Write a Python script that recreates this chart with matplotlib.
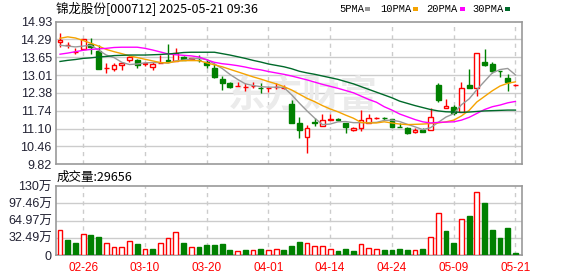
import numpy as np
import matplotlib
matplotlib.use('Agg')
import matplotlib.pyplot as plt
from matplotlib.patches import Rectangle

# ---------------- data ----------------
dates = ['02-21', '02-24', '02-25', '02-26', '02-27', '02-28',
         '03-03', '03-04', '03-05', '03-06', '03-07', '03-10', '03-11', '03-12', '03-13', '03-14',
         '03-17', '03-18', '03-19', '03-20', '03-21', '03-24', '03-25', '03-26', '03-27', '03-28', '03-31',
         '04-01', '04-02', '04-03', '04-07', '04-08', '04-09', '04-10', '04-11', '04-14', '04-15', '04-16',
         '04-17', '04-18', '04-21', '04-22', '04-23', '04-24', '04-25', '04-28', '04-29', '04-30',
         '05-06', '05-07', '05-08', '05-09', '05-12', '05-13', '05-14', '05-15', '05-16', '05-19', '05-20', '05-21']

opens = [14.21, 14.08, 13.84, 13.94, 14.12, 13.87, 13.25, 13.24, 13.38, 13.55,
         13.55, 13.42, 13.29, 13.45, 13.54, 13.53, 13.67, 13.60, 13.56, 13.49,
         13.26, 12.86, 12.72, 12.61, 12.59, 12.61, 12.55, 12.54, 12.59, 12.55,
         11.97, 11.29, 10.79, 11.32, 11.19, 11.42, 11.43, 11.31, 11.05, 11.11,
         11.29, 11.47, 11.47, 11.43, 11.17, 11.13, 10.97, 11.05, 11.05, 12.66,
         11.82, 11.86, 11.70, 12.66, 12.56, 13.48, 13.41, 13.17, 12.92, 12.64]
highs = [14.51, 14.21, 13.97, 14.30, 14.33, 14.10, 13.43, 13.46, 13.49, 13.70,
         13.59, 13.46, 13.47, 13.73, 14.12, 13.97, 13.70, 13.64, 13.73, 13.58,
         13.43, 12.98, 12.78, 12.78, 12.72, 12.78, 12.72, 12.60, 12.72, 12.66,
         12.12, 11.50, 11.23, 11.47, 11.61, 11.61, 11.48, 11.31, 11.14, 11.76,
         11.62, 11.52, 11.52, 11.45, 11.29, 11.15, 11.11, 11.11, 11.82, 12.74,
         12.15, 11.94, 12.76, 13.22, 13.80, 13.94, 13.49, 13.17, 13.04, 12.70]
lows = [14.01, 13.97, 13.77, 13.93, 13.76, 13.24, 13.08, 13.17, 13.20, 13.49,
        13.28, 13.33, 13.20, 13.43, 13.49, 13.53, 13.55, 13.58, 13.49, 13.28,
        12.90, 12.48, 12.54, 12.61, 12.45, 12.55, 12.36, 12.42, 12.53, 12.51,
        11.31, 10.75, 10.24, 11.19, 11.19, 11.40, 11.37, 10.95, 11.02, 11.02,
        11.29, 11.43, 11.42, 11.17, 11.16, 10.90, 10.93, 10.97, 11.05, 12.06,
        11.82, 11.58, 11.70, 12.54, 12.28, 13.34, 13.08, 12.96, 12.45, 12.61]
closes = [14.27, 14.09, 13.85, 14.29, 14.03, 13.24, 13.26, 13.37, 13.43, 13.65,
          13.36, 13.43, 13.41, 13.46, 13.53, 13.79, 13.55, 13.61, 13.55, 13.37,
          12.96, 12.74, 12.60, 12.62, 12.60, 12.62, 12.54, 12.55, 12.60, 12.56,
          11.31, 11.05, 11.11, 11.31, 11.41, 11.43, 11.42, 11.15, 11.11, 11.41,
          11.47, 11.48, 11.46, 11.17, 11.16, 10.95, 11.05, 10.97, 11.52, 12.12,
          11.90, 11.65, 12.56, 12.55, 13.79, 13.37, 13.17, 13.16, 12.75, 12.65]
prev_close = 14.15

# volume in 万 (10k shares)
volumes = [47.1, 28.3, 23.2, 39.6, 37.7, 34.5, 22.0, 14.5, 15.7, 27.0,
           20.7, 10.7, 10.7, 22.0, 31.4, 42.7, 23.2, 14.5, 15.7, 18.8,
           18.8, 20.7, 9.4, 7.5, 9.4, 9.4, 11.3, 9.4, 11.3, 9.4,
           17.0, 25.1, 22.0, 17.0, 17.0, 11.3, 7.5, 11.3, 7.5, 20.7,
           12.6, 11.3, 9.4, 9.4, 11.3, 9.4, 9.4, 11.3, 33.3, 78.5,
           45.2, 23.2, 67.2, 73.5, 119.3, 98.0, 47.1, 32.0, 51.5, 2.97]

ma5 = [14.08, 14.05, 14.02, 14.05, 14.08, 13.90, 13.73, 13.64, 13.47, 13.39,
       13.41, 13.45, 13.46, 13.46, 13.44, 13.52, 13.55, 13.59, 13.61, 13.57,
       13.41, 13.25, 13.04, 12.86, 12.70, 12.64, 12.60, 12.58, 12.58, 12.57,
       12.31, 12.01, 11.73, 11.47, 11.24, 11.26, 11.34, 11.35, 11.31, 11.31,
       11.31, 11.32, 11.39, 11.40, 11.35, 11.25, 11.16, 11.06, 11.13, 11.32,
       11.51, 11.63, 11.95, 12.16, 12.49, 12.79, 13.09, 13.21, 13.25, 13.02]
ma10 = [14.33, 14.38, 14.34, 14.25, 14.15, 14.05, 13.93, 13.85, 13.78, 13.70,
        13.64, 13.58, 13.52, 13.46, 13.45, 13.50, 13.53, 13.53, 13.53, 13.45,
        13.38, 13.31, 13.22, 13.13, 13.04, 12.95, 12.87, 12.78, 12.70, 12.60,
        12.48, 12.33, 12.18, 12.06, 11.92, 11.80, 11.70, 11.58, 11.47, 11.32,
        11.30, 11.30, 11.34, 11.30, 11.26, 11.24, 11.25, 11.26, 11.28, 11.30,
        11.34, 11.40, 11.55, 11.75, 12.05, 12.25, 12.45, 12.62, 12.72, 12.77]
ma20 = [13.76, 13.80, 13.85, 13.90, 13.93, 13.95, 13.97, 14.00, 14.01, 14.01,
        14.01, 13.97, 13.91, 13.84, 13.77, 13.74, 13.72, 13.70, 13.66, 13.56,
        13.47, 13.42, 13.39, 13.35, 13.30, 13.24, 13.20, 13.14, 13.09, 13.04,
        12.98, 12.91, 12.84, 12.76, 12.68, 12.61, 12.54, 12.46, 12.38, 12.26,
        12.14, 12.04, 11.88, 11.76, 11.62, 11.52, 11.42, 11.34, 11.30, 11.32,
        11.33, 11.34, 11.40, 11.50, 11.64, 11.78, 11.88, 11.94, 12.02, 12.07]
ma30 = [13.50, 13.54, 13.57, 13.61, 13.63, 13.66, 13.68, 13.71, 13.72, 13.73,
        13.73, 13.73, 13.74, 13.75, 13.77, 13.79, 13.82, 13.83, 13.83, 13.83,
        13.83, 13.78, 13.73, 13.67, 13.61, 13.54, 13.48, 13.41, 13.36, 13.31,
        13.24, 13.15, 13.09, 13.04, 12.98, 12.92, 12.86, 12.78, 12.70, 12.60,
        12.50, 12.40, 12.30, 12.20, 12.08, 12.00, 11.92, 11.85, 11.78, 11.73,
        11.70, 11.69, 11.68, 11.69, 11.71, 11.73, 11.74, 11.75, 11.76, 11.76]

price_tick_labels = ['9.82', '10.46', '11.10', '11.74', '12.38', '13.01', '13.65', '14.29', '14.93']
vol_tick_values = [0, 32.49, 64.97, 97.46, 130]
vol_tick_labels = ['0', '32.49万', '64.97万', '97.46万', '130万']
date_label_idx = [3, 11, 19, 27, 35, 43, 51, 59]
ma_names = ['5PMA', '10PMA', '20PMA', '30PMA']

title = '锦龙股份[000712] 2025-05-21 09:36'
vol_title = '成交量:29656'
watermark = '东方财富'

# ---------------- style ----------------
RED = '#ff0000'
GREEN = '#008000'
MA_COLORS = ['#999999', '#f5a300', '#ff00ff', '#006a2a']
GRID = '#cccccc'
SPINE = '#999999'
CJK = ['Noto Sans CJK SC', 'DejaVu Sans']
NUM = ['Liberation Sans', 'Noto Sans CJK SC']

W, H = 578, 276
fig = plt.figure(figsize=(W / 100, H / 100), dpi=100)
fig.patch.set_facecolor('white')

x0, x1 = 56, 522
ax = fig.add_axes([x0 / W, 1 - 164.3 / H, (x1 - x0) / W, 142.8 / H])
axv = fig.add_axes([x0 / W, 1 - 255 / H, (x1 - x0) / W, 69 / H])

n = len(closes)
xs = np.arange(n)
xlim = (-0.52, 59.85)

# ---- price panel ----
price_ticks = [float(s) for s in price_tick_labels]
ax.set_xlim(*xlim)
ax.set_ylim(price_ticks[0], price_ticks[-1])
ax.set_yticks(price_ticks)
ax.set_yticklabels(price_tick_labels, family=NUM, fontsize=9, color='#222233')
ax.set_xticks([])
ax.tick_params(axis='y', length=0, pad=3)
for y in price_ticks[1:-1]:
    ax.axhline(y, color=GRID, lw=1, zorder=0)
for i in date_label_idx:
    ax.axvline(i, color=GRID, lw=1, ls=(0, (3, 3)), zorder=0)
for s in ax.spines.values():
    s.set_color(SPINE)
    s.set_linewidth(1.2)

ax.text(0.53, 0.48, watermark, transform=ax.transAxes, ha='center', va='center',
        fontsize=27, fontweight='bold', color='#ebebeb', family=CJK, zorder=0)

bw = 0.62
for i in range(n):
    o, h, l, c = opens[i], highs[i], lows[i], closes[i]
    up = c >= o
    col = RED if up else GREEN
    ax.vlines(xs[i], l, h, color=col, lw=1.0, zorder=2)
    bottom = min(o, c)
    height = max(abs(c - o), 0.012)
    ax.add_patch(Rectangle((xs[i] - bw / 2, bottom), bw, height,
                           facecolor='white' if up else col, edgecolor=col, lw=1.0, zorder=3))

for vals, col in zip([ma5, ma10, ma20, ma30], MA_COLORS):
    ax.plot(xs, vals, color=col, lw=1.0, zorder=4)

# ---- volume panel ----
axv.set_xlim(*xlim)
axv.set_ylim(0, vol_tick_values[-1])
axv.set_yticks(vol_tick_values)
axv.set_yticklabels(vol_tick_labels, family=NUM, fontsize=9, color='#222233')
axv.tick_params(axis='y', length=0, pad=3)
axv.tick_params(axis='x', length=0, pad=5)
for y in vol_tick_values[1:-1]:
    axv.axhline(y, color=GRID, lw=1, zorder=0)
for i in date_label_idx:
    axv.axvline(i, color=GRID, lw=1, ls=(0, (3, 3)), zorder=0)
for s in axv.spines.values():
    s.set_color(SPINE)
    s.set_linewidth(1.2)

prevs = [prev_close] + closes[:-1]
for i in range(n):
    up = closes[i] >= prevs[i]
    col = RED if up else GREEN
    axv.bar(xs[i], volumes[i], width=bw, facecolor='white' if up else col,
            edgecolor=col, lw=1.0, zorder=3)

axv.set_xticks(date_label_idx)
axv.set_xticklabels([dates[i] for i in date_label_idx], family=NUM, fontsize=8.5, color=RED)

# ---- texts ----
fig.text(56 / W, 1 - 9 / H, title, family=CJK, fontsize=9, color='#000000', va='center', ha='left')
fig.text(57 / W, 1 - 177 / H, vol_title, family=CJK, fontsize=9, color='#000000', va='center', ha='left')

leg_x = [339, 380, 426, 472]
sq_x = [365, 413, 460, 505]
for name, lx, sx, col in zip(ma_names, leg_x, sq_x, MA_COLORS):
    fig.text(lx / W, 1 - 9 / H, name, family=['Liberation Mono', 'DejaVu Sans Mono'],
             fontsize=7.5, color='#000000', va='center', ha='left')
    fig.patches.append(Rectangle((sx / W, 1 - 10.5 / H), 5 / W, 3.5 / H,
                                 transform=fig.transFigure, facecolor=col, edgecolor='none'))

fig.savefig('out.png', dpi=100, facecolor='white')
